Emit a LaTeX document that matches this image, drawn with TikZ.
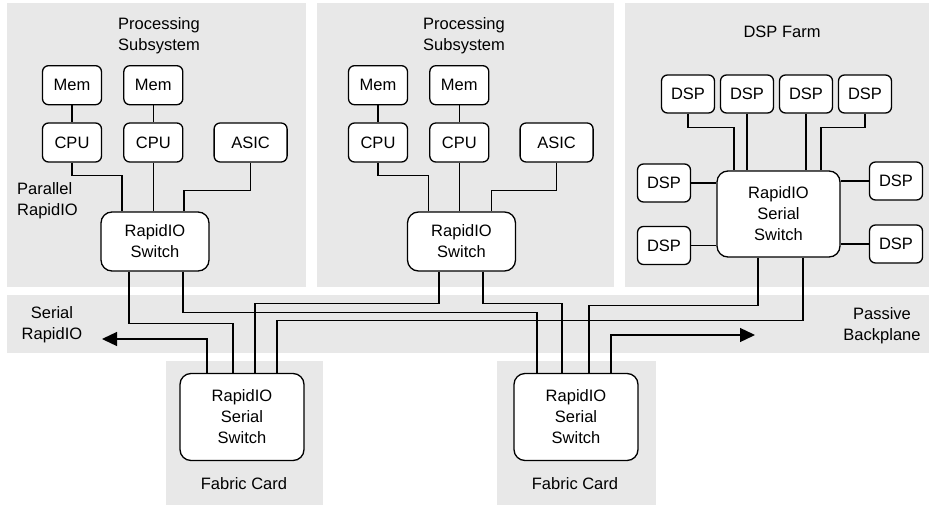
\documentclass[tikz,border=0pt]{standalone}
\usepackage{fontspec}
\setmainfont{Liberation Sans}
\usetikzlibrary{arrows.meta, positioning}
\definecolor{bggray}{HTML}{E8E8E8}

\begin{document}
\begin{tikzpicture}[
  x=1pt, y=-1pt,
  font=\fontsize{16.5}{21}\selectfont,
  node distance=17pt and 21pt,
  bg/.style={fill=bggray},
  blk/.style={draw, line width=1.3pt, rounded corners=6pt, fill=white, minimum width=59pt, minimum height=39pt, inner sep=0pt},
  dsp/.style={blk, minimum width=53pt, minimum height=38pt},
  sw/.style={draw, line width=1.3pt, rounded corners=11pt, fill=white, align=center, inner sep=0pt},
  lbl/.style={align=center, inner sep=0pt},
  wire/.style={line width=1.3pt},
  fl/.style={wire, -{Triangle[length=15pt, width=14pt]}}
]
\useasboundingbox (0,0) rectangle (931,506);
% grey areas
\fill[bg] (7,3) rectangle (306,287);
\fill[bg] (317,3) rectangle (614,287);
\fill[bg] (625,3) rectangle (929,287);
\fill[bg] (7,295) rectangle (929,353);
\fill[bg] (166,361) rectangle (323,505);
\fill[bg] (497,361) rectangle (656,505);

% processing subsystems
\node[blk] (cpuA1) at (72,142.5) {CPU};
\node[blk, right=of cpuA1] (cpuA2) {CPU};
\node[blk, minimum width=73pt, right=30pt of cpuA2] (asicA) {ASIC};
\node[blk, above=of cpuA1] (memA1) {Mem};
\node[blk, above=of cpuA2] (memA2) {Mem};
\node[sw, minimum width=108pt, minimum height=59pt] (swA) at (155,241.5) {RapidIO\\Switch};

\node[blk] (cpuB1) at (378,142.5) {CPU};
\node[blk, right=of cpuB1] (cpuB2) {CPU};
\node[blk, minimum width=73pt, right=30pt of cpuB2] (asicB) {ASIC};
\node[blk, above=of cpuB1] (memB1) {Mem};
\node[blk, above=of cpuB2] (memB2) {Mem};
\node[sw, minimum width=108pt, minimum height=59pt] (swB) at (461.5,241.5) {RapidIO\\Switch};

% DSP farm
\node[sw, minimum width=123pt, minimum height=86pt] (swC) at (778.5,214) {RapidIO\\Serial\\Switch};
\node[dsp] (dspT1) at (688,94) {DSP};
\node[dsp] (dspT2) at (747,94) {DSP};
\node[dsp] (dspT3) at (806,94) {DSP};
\node[dsp] (dspT4) at (865,94) {DSP};
\node[dsp] (dspL1) at (664,183) {DSP};
\node[dsp] (dspL2) at (664,245.5) {DSP};
\node[dsp] (dspR1) at (896,181) {DSP};
\node[dsp] (dspR2) at (896,244) {DSP};

% fabric cards
\node[sw, minimum width=124pt, minimum height=87pt] (fsA) at (242,417) {RapidIO\\Serial\\Switch};
\node[sw, minimum width=124pt, minimum height=87pt] (fsB) at (576,417) {RapidIO\\Serial\\Switch};

% labels
\node[lbl] (ttlA) at (159,36) {Processing\\Subsystem};
\node[lbl] (ttlB) at (464,36) {Processing\\Subsystem};
\node[lbl] (ttlC) at (782,32) {DSP Farm};
\node[lbl, align=left, anchor=west] (par) at (17,201) {Parallel\\RapidIO};
\node[lbl] (ser) at (52,325) {Serial\\RapidIO};
\node[lbl] (pas) at (882,326) {Passive\\Backplane};
\node[lbl] (fcA) at (244,484) {Fabric Card};
\node[lbl] (fcB) at (575,484) {Fabric Card};
\coordinate (outL) at (102,339);
\coordinate (outR) at (755,335);

% local buses
\draw[wire] (memA1)--(cpuA1); \draw[wire] (memA2)--(cpuA2);
\draw[wire] (cpuA1.south) -- ++(0,13) -| ([xshift=-33pt]swA.north);
\draw[wire] (cpuA2.south) -- (cpuA2.south |- swA.north);
\draw[wire] (asicA.south) -- ++(0,28) -| ([xshift=29pt]swA.north);
\draw[wire] (memB1)--(cpuB1); \draw[wire] (memB2)--(cpuB2);
\draw[wire] (cpuB1.south) -- ++(0,13) -| ([xshift=-33pt]swB.north);
\draw[wire] (cpuB2.south) -- (cpuB2.south |- swB.north);
\draw[wire] (asicB.south) -- ++(0,28) -| ([xshift=30pt]swB.north);

\draw[wire] (dspT1.south) -- ++(0,14) -| ([xshift=-44.5pt]swC.north);
\draw[wire] (dspT2) -- (dspT2 |- swC.north); \draw[wire] (dspT3) -- (dspT3 |- swC.north);
\draw[wire] (dspT4.south) -- ++(0,14) -| ([xshift=42.5pt]swC.north);
\draw[wire] (dspL1) -- (dspL1 -| swC.west); \draw[wire] (dspL2) -- (dspL2 -| swC.west);
\draw[wire] (dspR1) -- (dspR1 -| swC.east); \draw[wire] (dspR2) -- (dspR2 -| swC.east);

% backplane
\draw[wire] ([xshift=-26pt]swA.south) -- ++(0,52) -| ([xshift=-9pt]fsA.north);
\draw[wire] ([xshift=28pt]swA.south) -- ++(0,41) -| ([xshift=-39pt]fsB.north);
\draw[wire] ([xshift=-22.5pt]swB.south) -- ++(0,32) -| ([xshift=13pt]fsA.north);
\draw[wire] ([xshift=21.5pt]swB.south) -- ++(0,32) -| ([xshift=-14pt]fsB.north);
\draw[wire] ([xshift=-20.5pt]swC.south) -- ++(0,48) -| ([xshift=13pt]fsB.north);
\draw[wire] ([xshift=24.5pt]swC.south) -- ++(0,63) -| ([xshift=35pt]fsA.north);
\draw[fl] ([xshift=-35pt]fsA.north) |- (outL);
\draw[fl] ([xshift=35pt]fsB.north) |- (outR);
\end{tikzpicture}
\end{document}
